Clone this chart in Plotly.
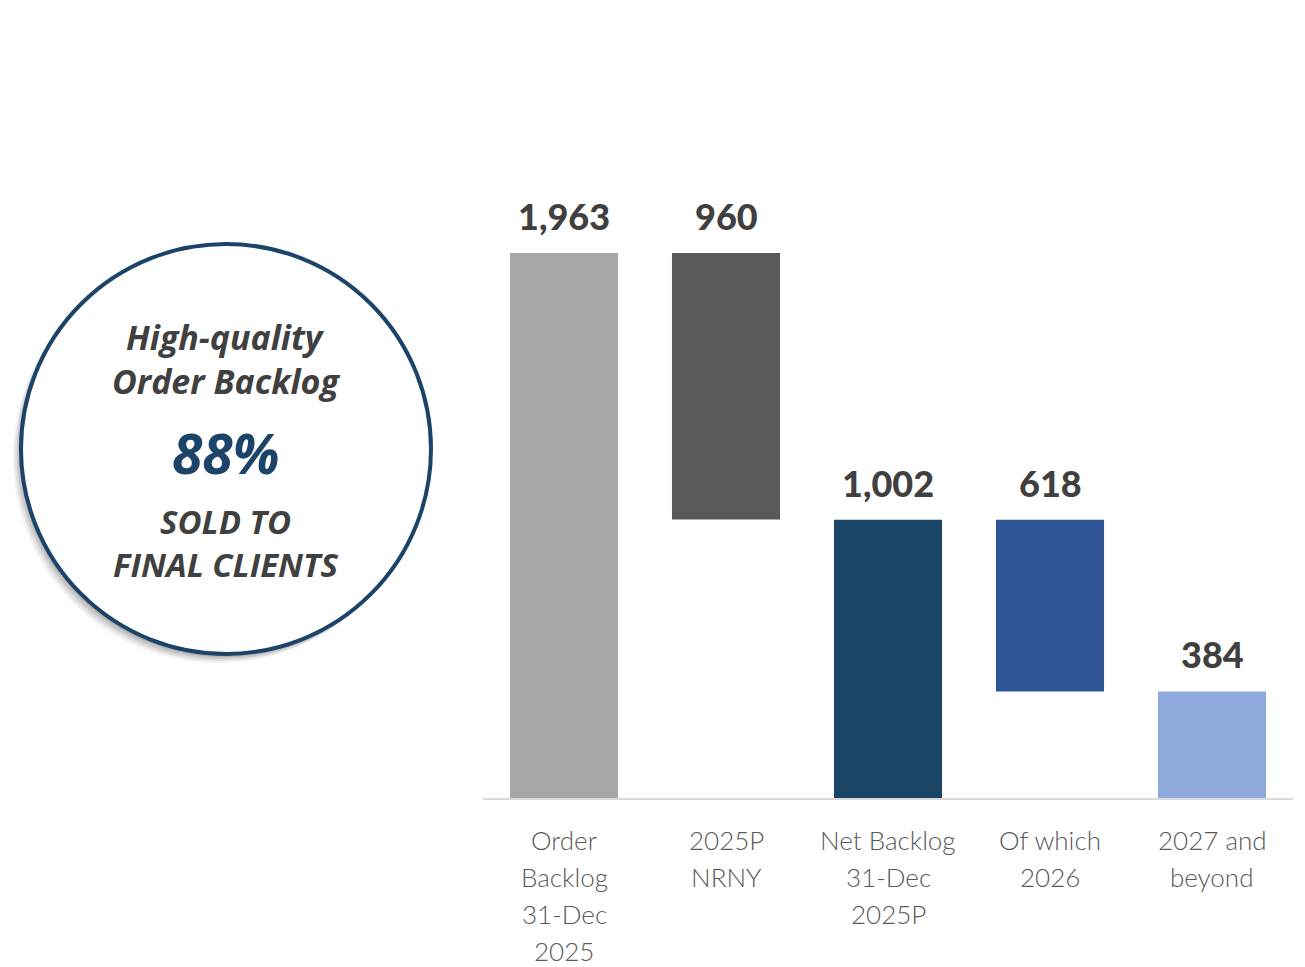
import plotly.graph_objects as go

# ==========================================================
# DATA
# ==========================================================

categories = [
    ["Order", "Backlog", "31-Dec", "2025"],
    ["2025P", "NRNY"],
    ["Net Backlog", "31-Dec", "2025P"],
    ["Of which", "2026"],
    ["2027 and", "beyond"]
]

values = [1963, 960, 1002, 618, 384]

# waterfall steps: "total" starts at 0, "down" hangs from previous top
kinds = ["total", "down", "total", "down", "total"]

labels = ["1,963", "960", "1,002", "618", "384"]

colors = ["#A6A6A6", "#595959", "#1B4465", "#2F5597", "#8FAADC"]

circle_lines = ["High-quality", "Order Backlog"]
circle_pct = "88%"
circle_foot = ["SOLD TO", "FINAL CLIENTS"]

# ==========================================================
# BASES FOR FLOATING BARS
# ==========================================================

bases = []
level = 0
for v, k in zip(values, kinds):
    if k == "total":
        bases.append(0)
        level = v
    else:
        bases.append(level - v)
        level = level - v

x_pos = list(range(len(categories)))

fig = go.Figure()

fig.add_trace(
    go.Bar(
        x=x_pos,
        y=values,
        base=bases,
        marker=dict(color=colors, line=dict(width=0)),
        width=0.667,
        hoverinfo="skip"
    )
)

# value labels above bars
for i, (v, b, t) in enumerate(zip(values, bases, labels)):
    fig.add_annotation(
        x=i,
        y=v + b,
        text=t,
        showarrow=False,
        yanchor="bottom",
        yshift=13,
        font=dict(family="Lato", size=36, color="#404040", weight=900)
    )

# category labels, one line each (wider line spacing than tick labels)
for i, lines in enumerate(categories):
    for k, line in enumerate(lines):
        fig.add_annotation(
            x=i,
            xref="x",
            yref="paper",
            y=0,
            yanchor="middle",
            yshift=-(42 + 37 * k),
            text=line,
            showarrow=False,
            borderpad=0,
            font=dict(family="Lato", size=26, color="#595959", weight=300)
        )

# ==========================================================
# CIRCLE CALLOUT
# ==========================================================

cx = -0.3173
cy = 0.5386
r = 205

# soft shadow
for dx, dy, op in [(-8, -9, 0.08), (-6, -7, 0.12), (-4, -5, 0.16), (-2, -3, 0.2)]:
    fig.add_shape(
        type="circle",
        xref="paper", yref="paper",
        xsizemode="pixel", ysizemode="pixel",
        xanchor=cx, yanchor=cy,
        x0=-r + dx, x1=r + dx,
        y0=-r + dy, y1=r + dy,
        fillcolor="rgba(90,90,90,%s)" % op,
        line=dict(width=0),
        layer="below"
    )

fig.add_shape(
    type="circle",
    xref="paper", yref="paper",
    xsizemode="pixel", ysizemode="pixel",
    xanchor=cx, yanchor=cy,
    x0=-r, x1=r,
    y0=-r, y1=r,
    fillcolor="white",
    line=dict(color="#1B4468", width=4),
    layer="below"
)

circle_text = [
    (circle_lines[0], 112, 34, "#404040"),
    (circle_lines[1], 68, 34, "#404040"),
    (circle_pct, -4, 55, "#1B4468"),
    (circle_foot[0], -73, 33, "#404040"),
    (circle_foot[1], -116, 33, "#404040"),
]

for txt, dy, size, col in circle_text:
    fig.add_annotation(
        xref="paper", yref="paper",
        x=cx, y=cy,
        yshift=dy,
        text="<b><i>" + txt + "</i></b>",
        showarrow=False,
        xanchor="center", yanchor="middle",
        font=dict(family="Open Sans", size=size, color=col)
    )

# ==========================================================
# LAYOUT
# ==========================================================

fig.update_xaxes(
    tickmode="array",
    tickvals=x_pos,
    range=[-0.5, 4.5],
    showgrid=False,
    zeroline=False,
    showline=True,
    linecolor="#D9D9D9",
    linewidth=2,
    ticks="",
    showticklabels=False
)

fig.update_yaxes(
    range=[0, 2334],
    visible=False,
    showgrid=False,
    zeroline=False
)

fig.update_layout(
    width=1297,
    height=959,
    margin=dict(l=475, r=12, t=142, b=169),
    paper_bgcolor="white",
    plot_bgcolor="white",
    showlegend=False,
    bargap=0.333
)

fig.write_html("out.html")
